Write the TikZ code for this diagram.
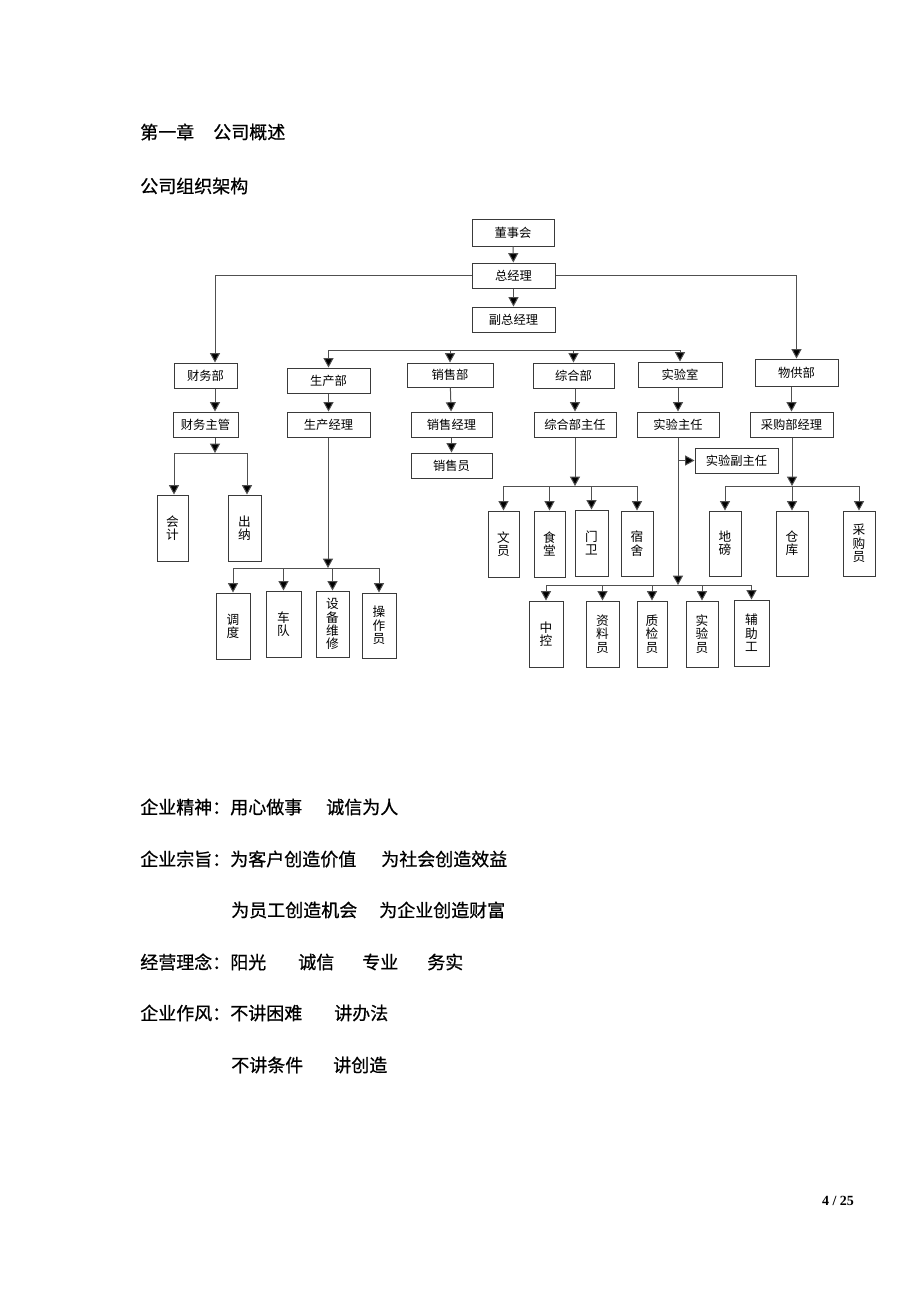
\documentclass[tikz,border=0pt]{standalone}
\usepackage{fontspec}
\usetikzlibrary{arrows.meta}
\newfontfamily\cjk{Noto Sans CJK SC}
\newfontfamily\cjkb[FakeBold=0.7]{Noto Sans CJK SC}
\newfontfamily\timesb{Liberation Serif}
\definecolor{boxgray}{HTML}{3A3A3A}
\definecolor{linegray}{HTML}{505050}
\newcommand{\orgbox}[7][box]{\node[#1,minimum width={(#5-#3)*0.75pt},minimum height={(#6-#4)*0.75pt}] (#2) at ({(#3+#5)/2},{(#4+#6)/2}) {#7};}
\tikzset{
  box/.style={draw=boxgray,line width=0.75pt,inner sep=0pt,text=black,font=\cjk\fontsize{9.2}{10}\selectfont},
  vbox/.style={box,align=center,font=\cjk\fontsize{9.5}{10}\selectfont},
  ln/.style={draw=linegray,line width=0.75pt},
  arr/.style={ln,-{Triangle[width=7.5pt,length=7pt,fill=black]}},
  txt/.style={anchor=west,inner sep=0pt,text=black,font=\cjkb\fontsize{13.5}{15}\selectfont},
}
\begin{document}
\begin{tikzpicture}[x=0.75pt,y=-0.75pt]
\fill[white] (0,0) rectangle (920,1302);
\useasboundingbox (0,0) rectangle (920,1302);
% headings
\node[txt] (h1a) at (140,132) {第一章};
\node[txt] (h1b) at (213,132) {公司概述};
\node[txt] (h2) at (140,186) {公司组织架构};
% boxes
\orgbox{dsh}{472}{219}{554}{246}{董事会}
\orgbox{zjl}{472}{263}{555}{288}{总经理}
\orgbox{fzjl}{472}{307}{555}{332}{副总经理}
\orgbox{cwb}{174}{363}{237}{388}{财务部}
\orgbox{cwzg}{173}{412}{238}{437}{财务主管}
\orgbox[vbox]{kj}{157}{495}{188}{561}{会\\计}
\orgbox[vbox]{cn}{228}{495}{261}{561}{出\\纳}
\orgbox{scb}{287}{368}{370}{393}{生产部}
\orgbox{scjl}{287}{412}{370}{437}{生产经理}
\orgbox[vbox]{dd}{216}{593}{250}{659}{调\\度}
\orgbox[vbox]{cd}{266}{591}{301}{657}{车\\队}
\orgbox[vbox]{sbwx}{316}{591}{349}{657}{设\\备\\维\\修}
\orgbox[vbox]{czy}{362}{593}{396}{658}{操\\作\\员}
\orgbox{xsb}{407}{363}{493}{387}{销售部}
\orgbox{xsjl}{411}{412}{492}{437}{销售经理}
\orgbox{xsy}{411}{453}{492}{478}{销售员}
\orgbox{zhb}{533}{363}{614}{388}{综合部}
\orgbox{zhzr}{534}{412}{616}{437}{综合部主任}
\orgbox[vbox]{wy}{488}{511}{519}{577}{文\\员}
\orgbox[vbox]{st}{534}{511}{565}{577}{食\\堂}
\orgbox[vbox]{mw}{575}{510}{608}{576}{门\\卫}
\orgbox[vbox]{ss}{621}{511}{653}{576}{宿\\舍}
\orgbox{sys}{638}{362}{722}{387}{实验室}
\orgbox{syzr}{637}{412}{719}{437}{实验主任}
\orgbox{sfzr}{695}{448}{778}{473}{实验副主任}
\orgbox[vbox]{zk}{529}{601}{563}{667}{中\\控}
\orgbox[vbox]{zly}{586}{601}{619}{667}{资\\料\\员}
\orgbox[vbox]{zjy}{637}{601}{667}{667}{质\\检\\员}
\orgbox[vbox]{syy}{686}{601}{718}{667}{实\\验\\员}
\orgbox[vbox]{fzg}{734}{600}{769}{666}{辅\\助\\工}
\orgbox{wgb}{755}{359}{838}{386}{物供部}
\orgbox{cgjl}{750}{412}{833}{437}{采购部经理}
\orgbox[vbox]{db}{709}{511}{741}{576}{地\\磅}
\orgbox[vbox]{ck}{776}{511}{808}{576}{仓\\库}
\orgbox[vbox]{cgy}{843}{511}{875}{576}{采\\购\\员}
% bus coordinates
\coordinate (cwx) at (215,453);
\coordinate (cwL) at (174,453);
\coordinate (cwR) at (247,453);
\coordinate (b2) at (500,350);
\coordinate (b3) at (328,568);
\coordinate (b4) at (575,486);
\coordinate (b5) at (678,585);
\coordinate (b6) at (792,486);
% top
\draw[arr] (dsh) -- (zjl);
\draw[arr] (zjl) -- (fzjl);
\draw[arr] (zjl.west) -| (cwb.north -| cwx);
\draw[arr] (zjl.east) -| (wgb.north);
% finance
\draw[arr] (cwb.south -| cwx) -- (cwzg.north -| cwx);
\draw[arr] (cwzg.south -| cwx) -- (cwx);
\draw[ln] (cwL) -- (cwR);
\draw[arr] (cwL) -- (cwL |- kj.north);
\draw[arr] (cwR) -- (cwR |- cn.north);
% department bus
\draw[ln] (b2 -| scb.north) -- (b2 -| sys.north);
\foreach \n in {scb,xsb,zhb,sys} \draw[arr] (b2 -| \n.north) -- (\n.north);
% production
\draw[arr] (scb) -- (scjl);
\draw[arr] (scjl.south -| b3) -- (b3);
\draw[ln] (b3 -| dd.north) -- (b3 -| czy.north);
\foreach \n in {dd,cd,sbwx,czy} \draw[arr] (b3 -| \n.north) -- (\n.north);
% sales
\draw[arr] (xsb) -- (xsjl);
\draw[arr] (xsjl) -- (xsy);
% general
\draw[arr] (zhb.south -| zhzr.south) -- (zhzr.north);
\draw[arr] (zhzr.south) -- (b4);
\draw[ln] (b4 -| wy.north) -- (b4 -| ss.north);
\foreach \n in {wy,st,mw,ss} \draw[arr] (b4 -| \n.north) -- (\n.north);
% lab
\draw[arr] (sys.south -| syzr.south) -- (syzr.north);
\draw[arr] (syzr.south -| b5) -- (b5);
\draw[arr] (sfzr.west -| b5) -- (sfzr.west);
\draw[ln] (b5 -| zk.north) -- (b5 -| fzg.north);
\foreach \n in {zk,zly,zjy,syy,fzg} \draw[arr] (b5 -| \n.north) -- (\n.north);
% supply
\draw[arr] (wgb.south -| cgjl.south) -- (cgjl.north);
\draw[arr] (cgjl.south -| b6) -- (b6);
\draw[ln] (b6 -| db.north) -- (b6 -| cgy.north);
\foreach \n in {db,ck,cgy} \draw[arr] (b6 -| \n.north) -- (\n.north);
% body text
\node[txt] (t1) at (140,807) {企业精神：用心做事};
\node[txt] (t1b) at (326,807) {诚信为人};
\node[txt] (t2) at (140,859) {企业宗旨：为客户创造价值};
\node[txt] (t2b) at (381,859) {为社会创造效益};
\node[txt] (t3) at (231,910) {为员工创造机会};
\node[txt] (t3b) at (379,910) {为企业创造财富};
\node[txt] (t4) at (140,962) {经营理念：阳光};
\node[txt] (t4b) at (298,962) {诚信};
\node[txt] (t4c) at (362,962) {专业};
\node[txt] (t4d) at (427,962) {务实};
\node[txt] (t5) at (140,1013) {企业作风：不讲困难};
\node[txt] (t5b) at (334,1013) {讲办法};
\node[txt] (t6) at (231,1065) {不讲条件};
\node[txt] (t6b) at (333,1065) {讲创造};
\node[inner sep=0pt,font=\timesb\bfseries\fontsize{10.5}{12}\selectfont] (pg) at (838,1201) {4 / 25};
\end{tikzpicture}
\end{document}
